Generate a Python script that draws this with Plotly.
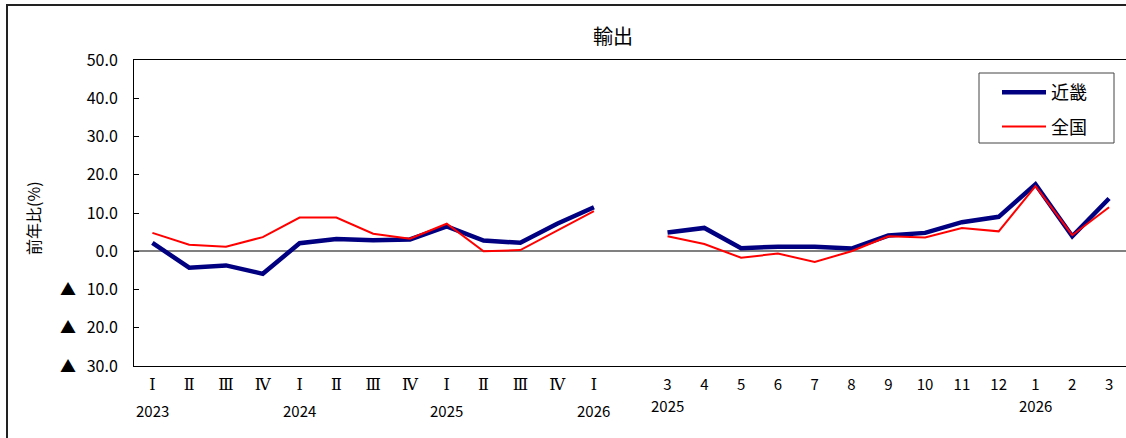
import plotly.graph_objects as go

# ---- data ----
quarter_keys = ["2023Q1", "2023Q2", "2023Q3", "2023Q4",
                "2024Q1", "2024Q2", "2024Q3", "2024Q4",
                "2025Q1", "2025Q2", "2025Q3", "2025Q4", "2026Q1"]
quarter_labels = ["Ⅰ", "Ⅱ", "Ⅲ", "Ⅳ", "Ⅰ", "Ⅱ", "Ⅲ", "Ⅳ", "Ⅰ", "Ⅱ", "Ⅲ", "Ⅳ", "Ⅰ"]
quarter_years = {"2023Q1": "2023", "2024Q1": "2024", "2025Q1": "2025", "2026Q1": "2026"}

gap_key = "gap"

month_keys = ["2025-03", "2025-04", "2025-05", "2025-06", "2025-07", "2025-08",
              "2025-09", "2025-10", "2025-11", "2025-12", "2026-01", "2026-02", "2026-03"]
month_labels = ["3", "4", "5", "6", "7", "8", "9", "10", "11", "12", "1", "2", "3"]
month_years = {"2025-03": "2025", "2026-01": "2026"}

kinki_q = [2.2, -4.3, -3.7, -5.9, 2.1, 3.2, 2.9, 3.1, 6.5, 2.8, 2.2, 7.2, 11.5]
zenkoku_q = [4.8, 1.7, 1.2, 3.7, 8.8, 8.8, 4.6, 3.3, 7.2, 0.0, 0.3, 5.5, 10.5]
kinki_m = [4.9, 6.1, 0.8, 1.2, 1.2, 0.7, 4.1, 4.8, 7.6, 9.0, 17.5, 3.9, 13.8]
zenkoku_m = [3.9, 1.9, -1.7, -0.6, -2.8, 0.0, 3.9, 3.6, 6.1, 5.2, 17.0, 4.2, 11.5]

y_tickvals = [50, 40, 30, 20, 10, 0, -10, -20, -30]
y_ticktext = ["50.0", "40.0", "30.0", "20.0", "10.0", "0.0",
              "▲&nbsp;&nbsp;&nbsp;10.0", "▲&nbsp;&nbsp;&nbsp;20.0", "▲&nbsp;&nbsp;&nbsp;30.0"]

title_text = "輸出"
y_title = "前年比(%)"
name_kinki = "近畿"
name_zenkoku = "全国"

# ---- build ----
FONT = "Noto Sans CJK JP"
x_all = quarter_keys + [gap_key] + month_keys
kinki_all = kinki_q + [None] + kinki_m
zenkoku_all = zenkoku_q + [None] + zenkoku_m

serif = lambda s: '<span style="font-family:DejaVu Serif;font-size:16px">' + s + '</span>'
tickvals = quarter_keys + month_keys
ticktext = [serif(s) for s in quarter_labels] + month_labels

PW = 992.0   # plot width px
PH = 306.0   # plot height px
def px_x(x): return (x - 134) / PW
def px_y(y): return (366 - y) / PH

fig = go.Figure()
fig.add_trace(go.Scatter(x=x_all, y=kinki_all, mode="lines", name=name_kinki,
                         legendgroup="a",
                         line=dict(color="#000080", width=4.5), connectgaps=False))
fig.add_trace(go.Scatter(x=x_all, y=zenkoku_all, mode="lines", name=name_zenkoku,
                         legendgroup="b",
                         line=dict(color="#FF0000", width=2), connectgaps=False))

annotations = []
for k, yr in quarter_years.items():
    annotations.append(dict(x=k, xref="x", y=px_y(410), yref="paper", text=yr,
                            showarrow=False, font=dict(family=FONT, size=15, color="#000"),
                            xanchor="center", yanchor="middle"))
for k, yr in month_years.items():
    annotations.append(dict(x=k, xref="x", y=px_y(405), yref="paper", text=yr,
                            showarrow=False, font=dict(family=FONT, size=15, color="#000"),
                            xanchor="center", yanchor="middle"))
annotations.append(dict(x=px_x(33), xref="paper", y=px_y(218), yref="paper", text=y_title,
                        textangle=-90, showarrow=False,
                        font=dict(family=FONT, size=16, color="#000"),
                        xanchor="center", yanchor="middle"))
annotations.append(dict(x=px_x(613), xref="paper", y=px_y(35), yref="paper", text=title_text,
                        showarrow=False, font=dict(family=FONT, size=20, color="#000"),
                        xanchor="center", yanchor="middle"))

fig.update_layout(
    width=1126, height=438,
    margin=dict(l=134, r=0, t=60, b=72),
    paper_bgcolor="white", plot_bgcolor="white",
    font=dict(family=FONT, color="#000"),
    showlegend=True,
    legend=dict(x=px_x(997), y=px_y(74), xanchor="left", yanchor="top",
                borderwidth=0, bgcolor="rgba(0,0,0,0)",
                font=dict(family=FONT, size=18, color="#000"),
                tracegroupgap=8, itemwidth=44),
    annotations=annotations,
    shapes=[
        dict(type="rect", xref="paper", yref="paper",
             x0=px_x(7), x1=1.05, y0=-0.5, y1=px_y(5),
             line=dict(color="#222", width=2), fillcolor="rgba(0,0,0,0)", layer="below"),
        dict(type="rect", xref="paper", yref="paper",
             x0=px_x(979), x1=px_x(1114), y0=px_y(143), y1=px_y(73),
             line=dict(color="#444", width=1), fillcolor="white", layer="above"),
    ],
)
fig.update_xaxes(type="category", categoryorder="array", categoryarray=x_all,
                 range=[-0.5, 26.46], tickvals=tickvals, ticktext=ticktext,
                 showgrid=False, showline=True, linecolor="#000", linewidth=1,
                 mirror=True, ticks="", ticklabelstandoff=5,
                 tickfont=dict(family=FONT, size=15, color="#000"), tickangle=0)
fig.update_yaxes(range=[-30, 50], tickvals=y_tickvals, ticktext=y_ticktext,
                 showgrid=False, showline=True, linecolor="#000", linewidth=1,
                 ticks="inside", ticklen=5, tickcolor="#000", ticklabelstandoff=12,
                 zeroline=True, zerolinecolor="#808080", zerolinewidth=1.5,
                 tickfont=dict(family=FONT, size=16, color="#000"))

fig.write_html("out.html", config={"displayModeBar": False},
               post_script="document.body.style.margin='0';document.body.style.overflow='hidden';")
